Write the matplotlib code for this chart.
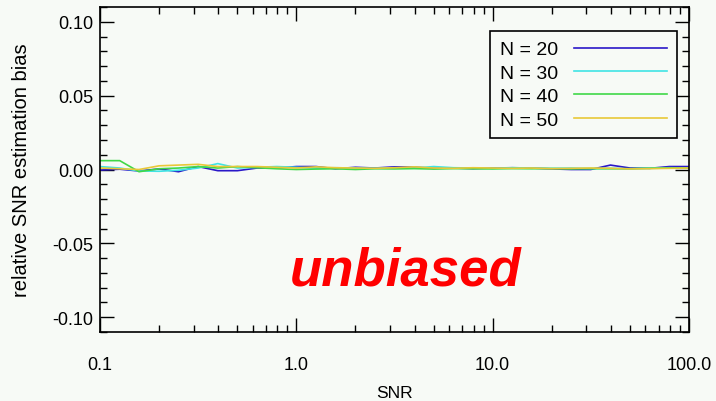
import numpy as np
import matplotlib
matplotlib.use('Agg')
import matplotlib.pyplot as plt
from matplotlib.ticker import LogLocator, FixedLocator, NullFormatter, MultipleLocator

plt.rcParams['font.family'] = ['Liberation Sans', 'DejaVu Sans']

# SNR grid (log spaced)
snr = [0.1, 0.126, 0.158, 0.2, 0.251, 0.316, 0.398, 0.501, 0.631, 0.794,
       1.0, 1.26, 1.58, 2.0, 2.51, 3.16, 3.98, 5.01, 6.31, 7.94,
       10.0, 12.6, 15.8, 20.0, 25.1, 31.6, 39.8, 50.1, 63.1, 79.4, 100.0]

# relative bias for each N
bias_n20 = [-0.0004, 0.0002, -0.0010, 0.0004, -0.0015, 0.0020, -0.0008, -0.0008, 0.0010, 0.0010,
            0.0020, 0.0020, 0.0005, 0.0015, 0.0010, 0.0018, 0.0016, 0.0008, 0.0010, 0.0006,
            0.0010, 0.0012, 0.0010, 0.0004, 0.0000, 0.0000, 0.0030, 0.0010, 0.0008, 0.0020, 0.0020]
bias_n30 = [0.0020, 0.0010, -0.0010, -0.0012, -0.0005, 0.0010, 0.0040, 0.0010, 0.0015, 0.0020,
            0.0015, 0.0010, 0.0012, 0.0010, 0.0008, 0.0012, 0.0010, 0.0020, 0.0012, 0.0010,
            0.0008, 0.0012, 0.0010, 0.0008, 0.0010, 0.0006, 0.0008, 0.0004, 0.0010, 0.0012, 0.0010]
bias_n40 = [0.0060, 0.0060, -0.0015, 0.0005, 0.0010, 0.0020, 0.0010, 0.0020, 0.0012, 0.0005,
            0.0000, 0.0003, 0.0005, 0.0000, 0.0005, 0.0004, 0.0006, 0.0003, 0.0006, 0.0005,
            0.0004, 0.0006, 0.0005, 0.0006, 0.0004, 0.0006, 0.0005, 0.0006, 0.0008, 0.0010, 0.0010]
bias_n50 = [0.0010, 0.0005, 0.0000, 0.0025, 0.0030, 0.0035, 0.0020, 0.0020, 0.0020, 0.0015,
            0.0010, 0.0018, 0.0012, 0.0010, 0.0008, 0.0012, 0.0018, 0.0010, 0.0008, 0.0012,
            0.0010, 0.0008, 0.0010, 0.0006, 0.0008, 0.0010, 0.0008, 0.0004, 0.0006, 0.0008, 0.0010]

labels = ['N = 20', 'N = 30', 'N = 40', 'N = 50']
colors = ['#2a18c8', '#40e4e4', '#40d848', '#e8c838']

bg = '#f7faf6'
fig = plt.figure(figsize=(7.16, 4.02), dpi=100, facecolor=bg)
ax = fig.add_axes([0.1397, 0.1716, 0.8226, 0.8085])
ax.set_facecolor(bg)

for ys, lab, c in zip([bias_n20, bias_n30, bias_n40, bias_n50], labels, colors):
    ax.plot(snr, ys, color=c, lw=1.2, label=lab)

ax.set_xscale('log')
ax.set_xlim(0.1, 100)
ax.set_ylim(-0.11, 0.11)

ax.xaxis.set_major_locator(FixedLocator([0.1, 1, 10, 100]))
ax.set_xticklabels(['0.1', '1.0', '10.0', '100.0'])
ax.xaxis.set_minor_locator(LogLocator(base=10, subs=np.arange(2, 10)))
ax.xaxis.set_minor_formatter(NullFormatter())
ax.yaxis.set_major_locator(FixedLocator([-0.10, -0.05, 0.0, 0.05, 0.10]))
ax.set_yticklabels(['-0.10', '-0.05', '0.00', '0.05', '0.10'])
ax.yaxis.set_minor_locator(MultipleLocator(0.01))

ax.tick_params(which='both', direction='in', top=True, right=True, width=1.0, color='black')
ax.tick_params(which='major', length=10)
ax.tick_params(which='minor', length=5)
ax.tick_params(axis='x', which='major', pad=17, labelsize=13)
ax.tick_params(axis='y', which='major', pad=5, labelsize=13)
for s in ax.spines.values():
    s.set_linewidth(1.2)

ax.set_xlabel('SNR', fontsize=12.5, labelpad=9)
ax.set_ylabel('relative SNR estimation bias', fontsize=14.5, labelpad=15)

leg = ax.legend(loc='upper right', bbox_to_anchor=(0.9796, 0.926), markerfirst=False,
                fontsize=14, handlelength=4.8, frameon=True, fancybox=False,
                borderpad=0.5, labelspacing=0.3, handletextpad=0.8, borderaxespad=0)
leg.get_frame().set_edgecolor('black')
leg.get_frame().set_linewidth(1.2)
leg.get_frame().set_facecolor(bg)
leg.get_frame().set_alpha(1)

fig.text(0.566, 0.291, 'unbiased', color='#ff0000', fontsize=38, fontweight='bold',
         fontstyle='italic', ha='center', va='baseline')

fig.savefig('out.png', dpi=100, facecolor=bg)
